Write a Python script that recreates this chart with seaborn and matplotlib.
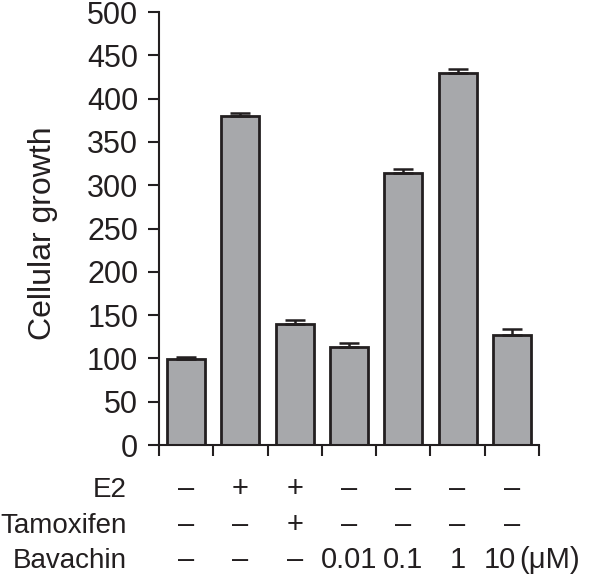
import numpy as np
import pandas as pd
import matplotlib
matplotlib.use('Agg')
import matplotlib.pyplot as plt
import seaborn as sns

# Data
groups = ['g1', 'g2', 'g3', 'g4', 'g5', 'g6', 'g7']
growth = [99, 380, 140, 113, 314, 430, 127]
growth_err = [3, 4, 4.5, 4.5, 5, 4, 7]

e2_row = ['\u2013', '+', '+', '\u2013', '\u2013', '\u2013', '\u2013']
tamoxifen_row = ['\u2013', '\u2013', '+', '\u2013', '\u2013', '\u2013', '\u2013']
bavachin_row = ['\u2013', '\u2013', '\u2013', '0.01', '0.1', '1', '10']
row_names = ['E2', 'Tamoxifen', 'Bavachin']
unit = '(\u03bcM)'

sns.set_style('ticks')
plt.rcParams['font.family'] = ['Liberation Sans', 'DejaVu Sans']
ink = '#231f20'

df = pd.DataFrame({'group': groups, 'growth': growth})

fig = plt.figure(figsize=(6.07, 5.74), dpi=100)
ax = fig.add_axes([0.262, 0.2247, 0.626, 0.7543])

sns.barplot(data=df, x='group', y='growth', color='#a7a8ab', width=0.7,
            edgecolor=ink, linewidth=2, saturation=1, errorbar=None, ax=ax)
ax.errorbar(np.arange(len(groups)), growth,
            yerr=[np.zeros(len(groups)), growth_err], fmt='none',
            ecolor=ink, elinewidth=1.8, capsize=7, capthick=1.8)

ax.set_xlim(-0.5, len(groups) - 0.5)
ax.set_ylim(0, 500)
ax.set_yticks(np.arange(0, 501, 50))
ax.set_xticks(np.arange(-0.5, len(groups), 1.0))
ax.set_xticklabels([])
ax.set_xlabel('')
ax.set_ylabel('Cellular growth', fontsize=23, color=ink)
ax.yaxis.set_label_coords(-0.265, 0.49)
ax.tick_params(axis='both', length=8, width=1.5, color=ink,
               labelsize=22, labelcolor=ink, pad=7)
for side in ['top', 'right']:
    ax.spines[side].set_visible(False)
for side in ['left', 'bottom']:
    ax.spines[side].set_linewidth(1.5)
    ax.spines[side].set_color(ink)

# Treatment table below the bars
rows = [e2_row, tamoxifen_row, bavachin_row]
row_y = [-0.12, -0.203, -0.284]
trans = matplotlib.transforms.blended_transform_factory(ax.transData, ax.transAxes)
for name, vals, y in zip(row_names, rows, row_y):
    ax.text(-0.084, y, name, transform=ax.transAxes, ha='right', va='baseline',
            fontsize=20, color=ink)
    for i, v in enumerate(vals):
        xpos = i - 0.22 if (v == '10') else i
        ax.text(xpos, y, v, transform=trans, ha='center', va='baseline',
                fontsize=21, color=ink)
ax.text(6.14, row_y[2], unit, transform=trans, ha='left', va='baseline',
        fontsize=21, color=ink)

fig.savefig('out.png', dpi=100)
